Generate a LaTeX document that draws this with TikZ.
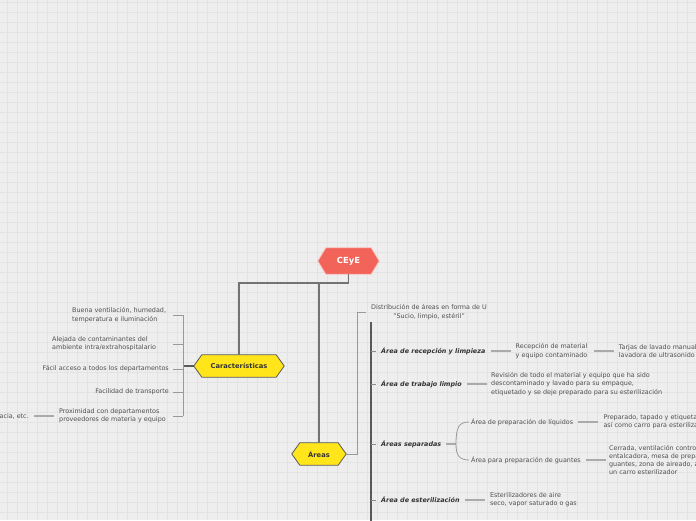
\documentclass[tikz,border=0pt]{standalone}
\usepackage{fontspec}
\setmainfont{DejaVu Sans}
\definecolor{bgc}{HTML}{EEEEEE}
\definecolor{gridc}{HTML}{E3E3E3}
\definecolor{txtc}{HTML}{505050}
\definecolor{ttlc}{HTML}{333333}
\definecolor{redc}{HTML}{F2635A}
\definecolor{yelc}{HTML}{FFE51A}
\definecolor{darkc}{HTML}{5A5A5A}
\definecolor{midc}{HTML}{999999}
\definecolor{lightc}{HTML}{AAAAAA}
\pgfdeclarelayer{bg}
\pgfdeclarelayer{shapes}
\pgfsetlayers{bg,shapes,main}
\begin{document}
\begin{tikzpicture}[x=1pt,y=-1pt,
  hexnode/.style={inner sep=0pt, text=ttlc, font=\bfseries\fontsize{6.7}{8}\selectfont},
  txt/.style={inner sep=0pt, text=txtc, align=left, font=\fontsize{6.4}{8.3}\selectfont},
  ttl/.style={inner sep=0pt, text=ttlc, font=\bfseries\itshape\fontsize{6.4}{8.3}\selectfont},
  mainline/.style={draw=darkc!85!white, line width=1.4pt},
  hubline/.style={draw=darkc, line width=1.4pt},
  brkline/.style={draw=midc, line width=0.8pt},
  connline/.style={draw=lightc, line width=1.2pt},
  spine/.style={draw=darkc, line width=1.6pt},
  tickline/.style={draw=darkc!70!white, line width=0.8pt}
]
\useasboundingbox (0,0) rectangle (696,520);
\clip (0,0) rectangle (696,520);
\begin{pgfonlayer}{bg}
  \fill[bgc] (0,0) rectangle (696,520);
  \foreach \i in {0,...,69} \draw[gridc, line width=0.8pt] ({7+10*\i},0) -- ({7+10*\i},520);
  \foreach \j in {0,...,52} \draw[gridc, line width=0.8pt] (0,{2+10*\j}) -- (696,{2+10*\j});
\end{pgfonlayer}

% main hexagon nodes
\node[hexnode, minimum width=45pt, minimum height=26pt, text=white, font=\bfseries\fontsize{8.4}{10}\selectfont] (ceye) at (348.5,261) {CEyE};
\node[hexnode, minimum width=74pt, minimum height=22pt] (car) at (239,366) {Características};
\node[hexnode, minimum width=38pt, minimum height=22pt] (areas) at (319,454) {Áreas};

\begin{pgfonlayer}{shapes}
  \path[fill=redc, draw=white!60!redc, line width=0.8pt] (ceye.north west) -- (ceye.north east) -- ([xshift=8pt]ceye.east) -- (ceye.south east) -- (ceye.south west) -- ([xshift=-8pt]ceye.west) -- cycle;
  \path[fill=yelc, draw=darkc, line width=0.8pt] (car.north west) -- (car.north east) -- ([xshift=8pt]car.east) -- (car.south east) -- (car.south west) -- ([xshift=-8pt]car.west) -- cycle;
  \path[fill=yelc, draw=darkc, line width=0.8pt] (areas.north west) -- (areas.north east) -- ([xshift=8pt]areas.east) -- (areas.south east) -- (areas.south west) -- ([xshift=-8pt]areas.west) -- cycle;
\end{pgfonlayer}

% CEyE connectors
\coordinate (jn) at (348.5,283);
\draw[mainline] (ceye.south) -- (jn) -| (car.north);
\draw[mainline] (319,283) -- (areas.north);

% left side: characteristics
\node[txt, anchor=west] (buena) at (72,315) {Buena ventilación, humedad,\\temperatura e iluminación};
\node[txt, anchor=west] (alejada) at (52,344) {Alejada de contaminantes del\\ambiente intra/extrahospitalario};
\node[txt, anchor=east] (facil) at (169,369) {Fácil acceso a todos los departamentos};
\node[txt, anchor=east] (facilidad) at (169,392) {Facilidad de transporte};
\node[txt, anchor=west] (prox) at (59,416) {Proximidad con departamentos\\proveedores de materia y equipo};
\node[txt, anchor=east] (acia) at (29,416) {acia, etc.};

\coordinate (bk) at (183,366);
\draw[hubline] ([xshift=-8pt]car.west) -- (bk);
\draw[brkline] (183,315) -- (183,416);
\foreach \y in {315,344,369,392,416} \draw[brkline] (183,\y) -- (173,\y);
\draw[connline] ([xshift=-5pt]prox.west) -- ([xshift=5pt]acia.east);

% right side: areas
\node[txt, anchor=west, align=center] (dist) at (371,312) {Distribución de áreas en forma de U\\"Sucio, limpio, estéril"};
\draw[brkline] ([xshift=8pt]areas.east) -- (357,454) |- ([xshift=-5pt]dist.west);
\draw[spine] (371,322) -- (371,530);

\node[ttl, anchor=west] (recep) at (381,351) {Área de recepción y limpieza};
\node[ttl, anchor=west] (trab) at (381,384) {Área de trabajo limpio};
\node[ttl, anchor=west] (sep) at (381,444) {Áreas separadas};
\node[ttl, anchor=west] (estz) at (381,500) {Área de esterilización};
\foreach \n in {recep,trab,sep,estz} \draw[tickline] (371,0 |- \n.west) -- ([xshift=-5pt]\n.west);

\node[txt, anchor=west] (recmat) at ([xshift=30pt]recep.east) {Recepción de material\\y equipo contaminado};
\node[txt, anchor=west] (tarjas) at ([xshift=31pt]recmat.east) {Tarjas de lavado manual y\\lavadora de ultrasonido};
\draw[connline] ([xshift=5pt]recep.east) -- ([xshift=-5pt]recmat.west);
\draw[connline] ([xshift=6pt]recmat.east) -- ([xshift=-5pt]tarjas.west);

\node[txt, anchor=west] (revis) at ([xshift=29pt]trab.east) {Revisión de todo el material y equipo que ha sido\\descontaminado y lavado para su empaque,\\etiquetado y se deje preparado para su esterilización};
\draw[connline] ([xshift=5pt]trab.east) -- ([xshift=-4pt]revis.west);

\node[txt, anchor=west] (liq) at (471,422) {Área de preparación de líquidos};
\node[txt, anchor=west] (guan) at (471,460) {Área para preparación de guantes};
\coordinate (brc) at (456,444);
\draw[connline] ([xshift=5pt]sep.east) -- (brc);
\draw[brkline] (brc) .. controls (456,427) and (459,422) .. ([xshift=-2pt]liq.west);
\draw[brkline] (brc) .. controls (456,455) and (459,460) .. ([xshift=-2pt]guan.west);

\node[txt, anchor=west] (prep) at ([xshift=30pt]liq.east) {Preparado, tapado y etiquetado,\\así como carro para esterilizar};
\draw[connline] ([xshift=5pt]liq.east) -- ([xshift=-5pt]prep.west);
\node[txt, anchor=west] (cerr) at ([xshift=28pt]guan.east) {Cerrada, ventilación controlada,\\entalcadora, mesa de preparación,\\guantes, zona de aireado, así como\\un carro esterilizador};
\draw[connline] ([xshift=5pt]guan.east) -- ([xshift=-3pt]cerr.west);

\node[txt, anchor=west] (ester) at ([xshift=30pt]estz.east) {Esterilizadores de aire\\seco, vapor saturado o gas};
\draw[connline] ([xshift=5pt]estz.east) -- ([xshift=-5pt]ester.west);
\end{tikzpicture}
\end{document}
